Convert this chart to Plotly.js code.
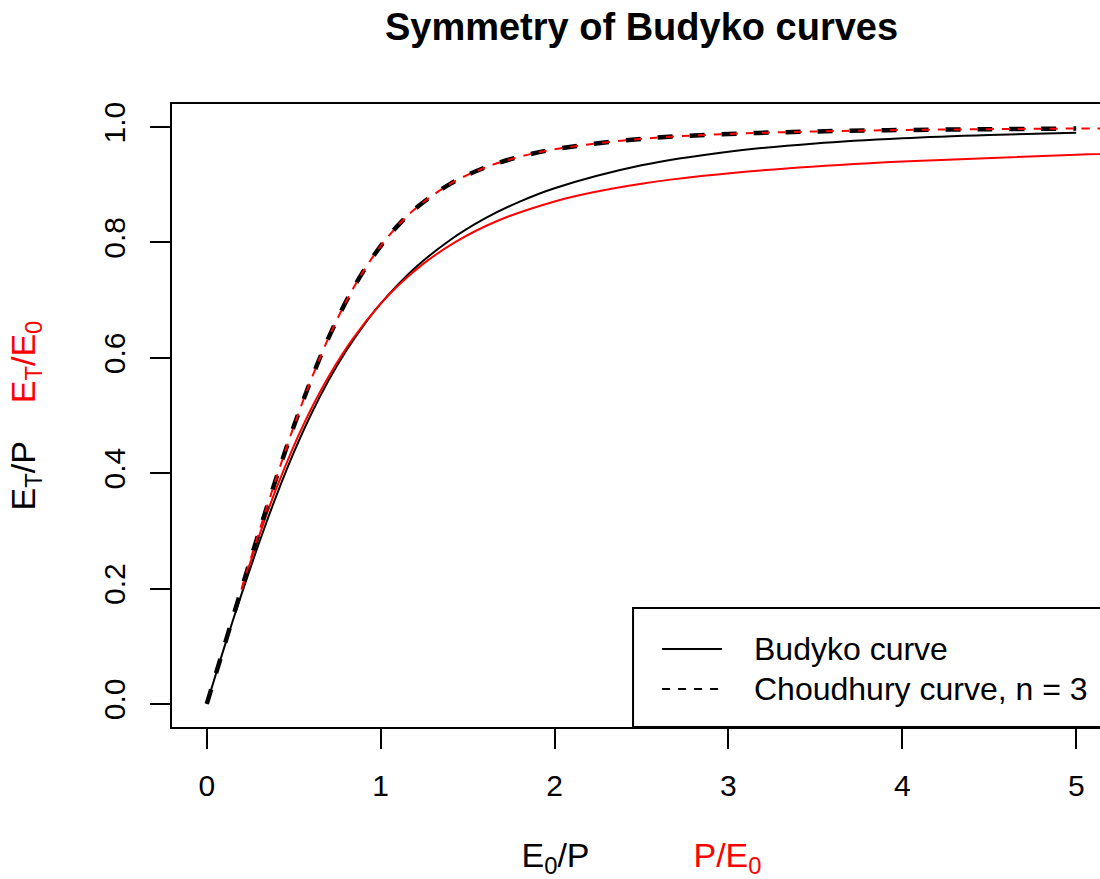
<!DOCTYPE html>
<html>
<head>
<meta charset="utf-8">
<script src="https://cdn.plot.ly/plotly-3.0.1.min.js"></script>
<style>
html,body{margin:0;padding:0;overflow:hidden;background:#fff;width:1100px;height:879px;}
#chart{width:1120px;height:879px;}
</style>
</head>
<body>
<div id="chart"></div>
<script>
// Budyko curve: E_T/P against E_0/P
const budykoX = [0, 0.05, 0.1, 0.15, 0.2, 0.3, 0.4, 0.5, 0.6, 0.7, 0.8, 0.9, 1.0, 1.2, 1.4, 1.6, 1.8, 2.0, 2.5, 3.0, 3.5, 4.0, 4.5, 5.0];
const budykoY = [0, 0.0494, 0.0976, 0.1446, 0.1904, 0.2785, 0.3607, 0.4355, 0.5021, 0.5605, 0.6113, 0.6555, 0.6938, 0.7564, 0.8043, 0.8416, 0.8708, 0.8940, 0.9338, 0.9574, 0.9717, 0.9807, 0.9864, 0.9901];
// Budyko curve, symmetric form: E_T/E_0 against P/E_0
const budykoSymX = [0.2, 0.2222, 0.25, 0.2857, 0.3333, 0.4, 0.5, 0.5556, 0.625, 0.7143, 0.8333, 1.0, 1.1111, 1.25, 1.4286, 1.6667, 2.0, 2.2222, 2.5, 2.8571, 3.3333, 4.0, 5.0, 6.6667];
const budykoSymY = [0.1980, 0.2192, 0.2452, 0.2776, 0.3191, 0.3735, 0.4470, 0.4838, 0.5260, 0.5745, 0.6303, 0.6938, 0.7283, 0.7641, 0.8006, 0.8368, 0.8710, 0.8869, 0.9018, 0.9155, 0.9283, 0.9403, 0.9520, 0.9637];
// Choudhury curve, n = 3
const choudX = [0, 0.1, 0.2, 0.3, 0.4, 0.5, 0.6, 0.7, 0.8, 0.9, 1.0, 1.1, 1.2, 1.4, 1.6, 1.8, 2.0, 2.5, 3.0, 3.5, 4.0, 4.5, 5.0];
const choudY = [0, 0.1000, 0.1995, 0.2974, 0.3918, 0.4808, 0.5621, 0.6345, 0.6970, 0.7499, 0.7937, 0.8296, 0.8588, 0.9016, 0.9298, 0.9486, 0.9615, 0.9796, 0.9880, 0.9924, 0.9949, 0.9964, 0.9974];
// Choudhury curve, symmetric form
const choudSymX = [0.2, 0.3, 0.4, 0.5, 0.6, 0.7, 0.8, 0.9, 1.0, 1.1, 1.2, 1.4, 1.6, 1.8, 2.0, 2.5, 3.0, 3.5, 4.0, 4.5, 5.0, 6.0];
const choudSymY = [0.1995, 0.2974, 0.3918, 0.4808, 0.5621, 0.6345, 0.6970, 0.7499, 0.7937, 0.8296, 0.8588, 0.9016, 0.9298, 0.9486, 0.9615, 0.9796, 0.9880, 0.9924, 0.9949, 0.9964, 0.9974, 0.9985];

const xTicks = [0, 1, 2, 3, 4, 5];
const yTicks = [0, 0.2, 0.4, 0.6, 0.8, 1.0];
const legendLabels = ["Budyko curve", "Choudhury curve, n = 3"];

const FONT = "Liberation Sans, Arial, Helvetica, sans-serif";
const NB = "\u00A0";

const traces = [
  {x: budykoX, y: budykoY, type: 'scatter', mode: 'lines', line: {color: 'black', width: 2, shape: 'spline'}, name: legendLabels[0], showlegend: false},
  {x: budykoSymX, y: budykoSymY, type: 'scatter', mode: 'lines', line: {color: 'red', width: 2, shape: 'spline'}, showlegend: false},
  {x: choudX, y: choudY, type: 'scatter', mode: 'lines', line: {color: 'black', width: 4.5, dash: '15px,17px', shape: 'spline'}, name: legendLabels[1], showlegend: false},
  {x: choudSymX, y: choudSymY, type: 'scatter', mode: 'lines', line: {color: 'red', width: 2, dash: '8px,8px', shape: 'spline'}, showlegend: false}
];

const layout = {
  width: 1120, height: 879,
  margin: {l: 172, r: 9, t: 104, b: 152},
  paper_bgcolor: 'white', plot_bgcolor: 'white',
  font: {family: FONT, size: 30, color: 'black'},
  showlegend: false,
  title: {text: '<b>Symmetry of Budyko curves</b>', font: {family: FONT, size: 38, color: 'black'},
          xref: 'paper', x: 0.5, xanchor: 'center', yref: 'container', y: 1 - 27/879, yanchor: 'middle'},
  xaxis: {
    range: [-0.2, 5.2], tickvals: xTicks, ticktext: xTicks.map(String),
    ticks: 'outside', ticklen: 20, tickwidth: 2, tickcolor: 'black',
    showline: true, mirror: true, linewidth: 2, linecolor: 'black',
    showgrid: false, zeroline: false, ticklabelstandoff: 11,
    tickfont: {family: FONT, size: 30, color: 'black'},
    title: {text: 'E<sub>0</sub>/P' + NB.repeat(11) + '<span style="color:red">P/E<sub>0</sub></span>',
            font: {family: FONT, size: 34, color: 'black'}, standoff: 46}
  },
  yaxis: {
    range: [-0.04, 1.04], tickvals: yTicks, ticktext: yTicks.map(v => v.toFixed(1)),
    ticks: 'outside', ticklen: 20, tickwidth: 2, tickcolor: 'black', tickangle: -90,
    showline: true, mirror: true, linewidth: 2, linecolor: 'black',
    showgrid: false, zeroline: false, ticklabelstandoff: 13,
    tickfont: {family: FONT, size: 30, color: 'black'},
    title: {text: 'E<sub>T</sub>/P' + NB.repeat(4) + '<span style="color:red">E<sub>T</sub>/E<sub>0</sub></span>',
            font: {family: FONT, size: 34, color: 'black'}, standoff: 52}
  },
  shapes: [
    {type: 'rect', xref: 'paper', yref: 'paper', x0: 0.491, x1: 1.0, y0: 0, y1: 0.191,
     line: {color: 'black', width: 2}, fillcolor: 'white', layer: 'above'},
    {type: 'line', xref: 'paper', yref: 'paper', x0: 0.5218, x1: 0.5857, y0: 0.1252, y1: 0.1252,
     line: {color: 'black', width: 2}},
    {type: 'line', xref: 'paper', yref: 'paper', x0: 0.5218, x1: 0.5857, y0: 0.061, y1: 0.061,
     line: {color: 'black', width: 2, dash: '8px,8px'}}
  ],
  annotations: [
    {xref: 'paper', yref: 'paper', x: 0.6177, y: 0.1252, xanchor: 'left', yanchor: 'middle', showarrow: false,
     text: legendLabels[0], font: {family: FONT, size: 32, color: 'black'}},
    {xref: 'paper', yref: 'paper', x: 0.6177, y: 0.061, xanchor: 'left', yanchor: 'middle', showarrow: false,
     text: legendLabels[1], font: {family: FONT, size: 32, color: 'black'}}
  ]
};

Plotly.newPlot('chart', traces, layout, {displayModeBar: false, staticPlot: true});
</script>
</body>
</html>
